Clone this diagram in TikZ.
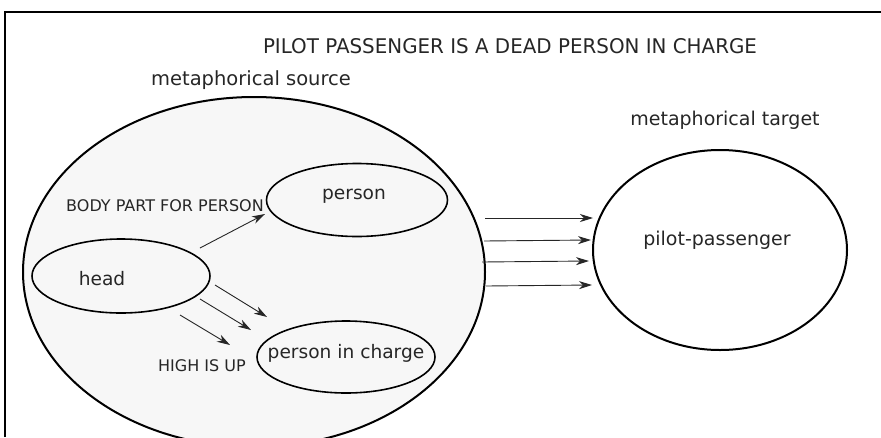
\documentclass[tikz,border=0pt]{standalone}
\usepackage{fontspec}
\usepackage{graphicx}
\setmainfont{DejaVu Sans}
\usetikzlibrary{shapes.geometric,arrows.meta}
\tikzset{
  oval/.style={ellipse, draw=black, line width=1.6pt, inner sep=0pt},
  lbl/.style={inner sep=0pt, text=black!85},
  big/.style={font=\fontsize{18.6}{22}\selectfont},
  small/.style={font=\fontsize{16}{19}\selectfont},
  arr/.style={draw=black!85, line width=0.9pt, -{Stealth[length=13pt,width=8pt,inset=4pt]}},
}
\begin{document}
\begin{tikzpicture}[x=1pt,y=-1pt]
\useasboundingbox (0,0) rectangle (881,437);
\clip (0,0) rectangle (881,437);
% frame
\draw[line width=1.6pt] (5,437) -- (5,12) -- (881,12);
% titles
\node[lbl, font=\fontsize{20.5}{24}\selectfont] (title) at (510,46) {\resizebox{494pt}{15pt}{PILOT PASSENGER IS A DEAD PERSON IN CHARGE}};
\node[lbl, font=\fontsize{19.5}{23}\selectfont] (srcl) at (251,80) {metaphorical source};
\node[lbl, font=\fontsize{19}{23}\selectfont] (tgtl) at (725,120) {metaphorical target};
% source domain
\node[oval, fill=black!3, line width=2pt, minimum width=462pt, minimum height=350pt] (src) at (254,272) {};
\node[oval, fill=black!3, minimum width=181pt, minimum height=73pt] (person) at (357,200) {};
\node[lbl, big] at (354,196) {person};
\node[oval, fill=black!3, minimum width=178pt, minimum height=74pt] (head) at (121,276) {};
\node[lbl, big] at (102,279) {head};
\node[oval, fill=black!3, minimum width=178pt, minimum height=72pt] (pic) at (346,357) {};
\node[lbl, big] at (346,353) {person in charge};
% target domain
\node[oval, fill=white, line width=2pt, minimum width=254pt, minimum height=200pt] (tgt) at (720,250) {};
\node[lbl, font=\fontsize{19}{22}\selectfont] at (717,240) {pilot-passenger};
% relation labels
\node[lbl, small] (bpl) at (165,206) {BODY PART FOR PERSON};
\node[lbl, small] (hiu) at (202,366) {HIGH IS UP};
% arrow end points
\coordinate (a1s) at (200,248); \coordinate (a1e) at (265,214);
\coordinate (b1s) at (215,285); \coordinate (b1e) at (267,317);
\coordinate (b2s) at (200,299); \coordinate (b2e) at (251,330);
\coordinate (b3s) at (180,315); \coordinate (b3e) at (230,345);
\coordinate (c1s) at (485,218); \coordinate (c1e) at (593,218);
\coordinate (c2s) at (484,241); \coordinate (c2e) at (591,240);
\coordinate (c3s) at (482,262); \coordinate (c3e) at (589,261);
\coordinate (c4s) at (486,286); \coordinate (c4e) at (592,285);
\draw[arr] (a1s) -- (a1e);
\draw[arr] (b1s) -- (b1e);
\draw[arr] (b2s) -- (b2e);
\draw[arr] (b3s) -- (b3e);
\draw[arr] (c1s) -- (c1e);
\draw[arr] (c2s) -- (c2e);
\draw[arr] (c3s) -- (c3e);
\draw[arr] (c4s) -- (c4e);
\end{tikzpicture}
\end{document}
